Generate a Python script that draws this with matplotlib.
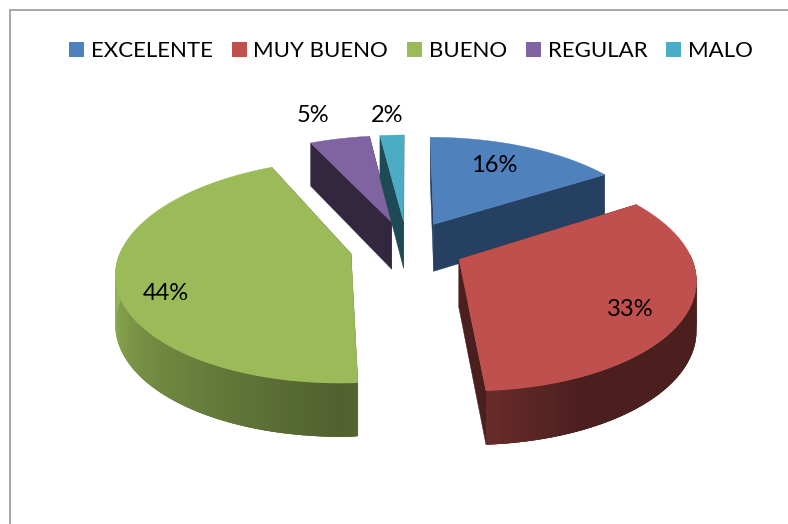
import numpy as np
import matplotlib
matplotlib.use("Agg")
import matplotlib.pyplot as plt
from matplotlib.patches import Patch
from matplotlib.collections import PolyCollection
from matplotlib.colors import to_rgb

categories = ["EXCELENTE", "MUY BUENO", "BUENO", "REGULAR", "MALO"]
values = [16, 33, 44, 5, 2]
colors = ["#4f81bd", "#c0504d", "#9bbb59", "#8064a2", "#4bacc6"]
wall_colors = ["#254061", "#4a1f1e", "#4f6030", "#33273f", "#1e4a55"]
draw_order = [0, 3, 4, 2, 1]
label_pos = [(494, 166), (630, 309), (166, 293), (313, 115), (387, 115)]

# projection of the tilted, exploded pie
CX, CY, R, B, K, DEPTH, KD, EXPLODE = 407, 247, 229, 107, 0.155, 48, 0.1, 0.25


def project(u, v, down=False):
    w = 1 + K * v
    x = CX + R * u / w
    y = CY - B * v / w + (DEPTH / (1 + KD * v) if down else 0)
    return np.column_stack([x, y])


def shade(theta):
    return np.interp(theta, [0, 90, 155, 176, 180, 230, 270, 360],
                     [0.4, 0.39, 0.39, 0.54, 0.52, 0.75, 0.98, 1.0])


plt.rcParams["font.family"] = ["Lato", "DejaVu Sans"]
fig = plt.figure(figsize=(7.88, 5.24), dpi=100)
ax = fig.add_axes([0, 0, 1, 1])
ax.set_xlim(0, 788)
ax.set_ylim(524, 0)
ax.axis("off")

ax.plot([10, 10, 788], [524, 10, 10], color="#a0a0a0", lw=1.3, solid_joinstyle="miter")

edges = np.concatenate([[0], np.cumsum(values)]) * 3.6
for i in draw_order:
    t0, t1 = edges[i], edges[i + 1]
    mid = np.radians((t0 + t1) / 2)
    ou, ov = EXPLODE * np.sin(mid), EXPLODE * np.cos(mid)
    th = np.linspace(t0, t1, max(int(t1 - t0) * 2, 8))
    u = ou + np.sin(np.radians(th))
    v = ov + np.cos(np.radians(th))

    # radial walls, farther one first
    walls = [(u[0], v[0]), (u[-1], v[-1])]
    walls.sort(key=lambda p: -p[1])
    for wu, wv in walls:
        uu = np.array([ou, wu])
        vv = np.array([ov, wv])
        poly = np.vstack([project(uu, vv), project(uu[::-1], vv[::-1], True)])
        ax.fill(poly[:, 0], poly[:, 1], color=wall_colors[i], lw=0.3)

    # outer wall, overlapping segments so the shading varies without seams
    base = np.array(to_rgb(colors[i]))
    top = project(u, v)
    bot = project(u, v, True)
    idx = [j for j in range(len(th) - 1) if np.cos(np.radians((th[j] + th[j + 1]) / 2)) <= 0.05]
    for j in idx:
        tm = (th[j] + th[j + 1]) / 2
        k = min(j + 3, len(th) - 1)
        ax.add_collection(PolyCollection([[top[j], top[k], bot[k], bot[j]]],
                                         facecolors=[base * shade(tm)], edgecolors="none"))

    # top face
    fu = np.concatenate([[ou], u])
    fv = np.concatenate([[ov], v])
    poly = project(fu, fv)
    ax.fill(poly[:, 0], poly[:, 1], color=colors[i], lw=0.3)

for val, (x, y) in zip(values, label_pos):
    ax.text(x, y, f"{val}%", ha="center", va="center", fontsize=17, color="#000000")

handles = [Patch(facecolor=c, edgecolor="none", label=n) for c, n in zip(colors, categories)]
ax.legend(handles=handles, ncol=5, loc="upper left", bbox_to_anchor=(69, 41),
          bbox_transform=ax.transData, frameon=False, fontsize=16, borderpad=0,
          borderaxespad=0, handlelength=0.68, handleheight=0.68, handletextpad=0.3,
          columnspacing=0.85)

fig.savefig("out.png", dpi=100)
